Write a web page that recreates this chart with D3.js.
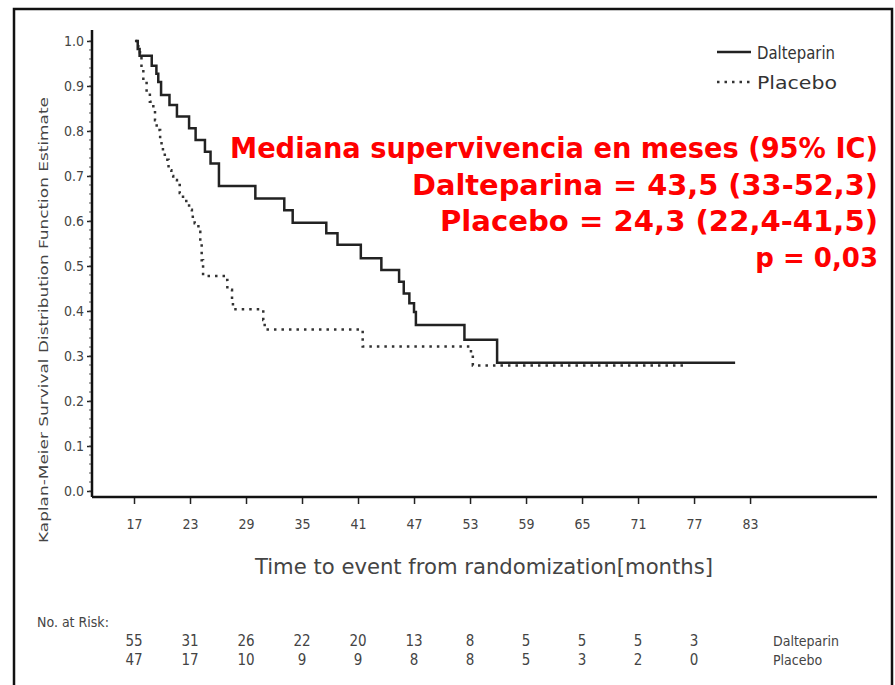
<!DOCTYPE html>
<meta charset="utf-8">
<html>
<head>
<style>
  body { margin: 0; background: #fff; }
  .tick text { fill: #444; }
</style>
</head>
<script src="https://d3js.org/d3.v7.min.js"></script>
<body>
<div id="vis"></div>
<script>
  // step points [months, survival estimate]
  var dalteparin = [
    [17.2, 1.0], [17.4, 0.982], [17.6, 0.967], [18.9, 0.945], [19.4, 0.927],
    [19.6, 0.909], [19.9, 0.880], [20.8, 0.858], [21.6, 0.832], [22.9, 0.806],
    [23.6, 0.780], [24.6, 0.754], [25.2, 0.728], [26.1, 0.678], [30.0, 0.650],
    [33.1, 0.624], [34.0, 0.596], [37.6, 0.573], [38.8, 0.547], [41.3, 0.517],
    [43.5, 0.491], [45.4, 0.465], [45.9, 0.439], [46.5, 0.417], [47.0, 0.398],
    [47.2, 0.369], [52.4, 0.336], [55.9, 0.285], [81.4, 0.285]
  ];
  var placebo = [
    [17.1, 1.0], [17.46, 0.985], [17.64, 0.969], [17.8, 0.94], [18.0, 0.913],
    [18.35, 0.884], [18.7, 0.865], [19.07, 0.847], [19.25, 0.824], [19.43, 0.802],
    [19.8, 0.773], [20.1, 0.75], [20.3, 0.736], [20.7, 0.713], [21.0, 0.70],
    [21.2, 0.691], [21.6, 0.68], [21.9, 0.662], [22.25, 0.650], [22.6, 0.639],
    [22.9, 0.625], [23.2, 0.617], [23.3, 0.605], [23.5, 0.595], [23.9, 0.576],
    [24.1, 0.55], [24.25, 0.513], [24.4, 0.478], [26.8, 0.469], [27.0, 0.447],
    [27.5, 0.424], [27.6, 0.404], [30.85, 0.38], [31.0, 0.359], [41.5, 0.321],
    [53.1, 0.302], [53.3, 0.279], [76.0, 0.279]
  ];
  var xTicks = [17, 23, 29, 35, 41, 47, 53, 59, 65, 71, 77, 83];
  var yTicks = [0, 0.1, 0.2, 0.3, 0.4, 0.5, 0.6, 0.7, 0.8, 0.9, 1.0];
  var riskDalteparin = [55, 31, 26, 22, 20, 13, 8, 5, 5, 5, 3];
  var riskPlacebo = [47, 17, 10, 9, 9, 8, 8, 5, 3, 2, 0];
  var annotationLines = [
    "Mediana supervivencia en meses (95% IC)",
    "Dalteparina = 43,5 (33-52,3)",
    "Placebo = 24,3 (22,4-41,5)",
    "p = 0,03"
  ];

  var W = 895, H = 685;
  var narrow = "'Liberation Sans Narrow', 'DejaVu Sans Condensed', 'Arial Narrow', sans-serif";

  var svg = d3.select("#vis").append("svg")
    .attr("width", W)
    .attr("height", H);

  svg.append("rect")
    .attr("x", 14).attr("y", 9)
    .attr("width", 878).attr("height", 700)
    .style("fill", "none")
    .style("stroke", "#111")
    .style("stroke-width", 2.5);

  var x = d3.scaleLinear().domain([12.5, 96.6]).range([92, 877]);
  var y = d3.scaleLinear().domain([-0.0133, 1.0244]).range([497, 30]);

  // y axis
  var yAxis = svg.append("g")
    .attr("transform", "translate(92,0)")
    .call(d3.axisLeft(y).tickValues(yTicks).tickSize(5).tickPadding(3).tickFormat(d3.format(".1f")));
  yAxis.select(".domain").remove();
  yAxis.selectAll("text").style("font-family", narrow).style("font-size", "14px");
  yAxis.selectAll("line").style("stroke", "#222").style("stroke-width", 1.5);

  var minor = d3.range(0, 1.001, 0.02);
  svg.append("g").selectAll("line")
    .data(minor)
    .enter().append("line")
    .attr("x1", 89).attr("x2", 92)
    .attr("y1", function(d) { return y(d); })
    .attr("y2", function(d) { return y(d); })
    .style("stroke", "#555")
    .style("stroke-width", 1);

  svg.append("line")
    .attr("x1", 92).attr("x2", 92)
    .attr("y1", y.range()[1]).attr("y2", y.range()[0])
    .style("stroke", "#111").style("stroke-width", 2.5);

  // x axis
  var xAxis = svg.append("g")
    .attr("transform", "translate(0,497)")
    .call(d3.axisBottom(x).tickValues(xTicks).tickSize(7).tickPadding(15));
  xAxis.select(".domain").remove();
  xAxis.selectAll("text").style("font-family", narrow).style("font-size", "14px");
  xAxis.selectAll("line").style("stroke", "#222").style("stroke-width", 1.5);

  svg.append("line")
    .attr("x1", 92).attr("x2", x.range()[1])
    .attr("y1", 497).attr("y2", 497)
    .style("stroke", "#111").style("stroke-width", 2.5);

  // axis titles
  svg.append("text")
    .attr("transform", "translate(48,320) rotate(-90)")
    .style("text-anchor", "middle")
    .style("font-family", narrow)
    .style("font-size", "13px")
    .style("fill", "#444")
    .attr("textLength", 446)
    .attr("lengthAdjust", "spacingAndGlyphs")
    .text("Kaplan-Meier Survival Distribution Function Estimate");

  svg.append("text")
    .attr("x", 484).attr("y", 574)
    .style("text-anchor", "middle")
    .style("font-family", narrow)
    .style("font-size", "21px")
    .style("fill", "#444")
    .attr("textLength", 458)
    .attr("lengthAdjust", "spacingAndGlyphs")
    .text("Time to event from randomization[months]");

  // curves
  var line = d3.line()
    .x(function(d) { return x(d[0]); })
    .y(function(d) { return y(d[1]); })
    .curve(d3.curveStepAfter);

  svg.append("path")
    .datum(placebo)
    .attr("d", line)
    .style("fill", "none")
    .style("stroke", "#333")
    .style("stroke-width", 2.5)
    .style("stroke-dasharray", "2.5,5");

  svg.append("path")
    .datum(dalteparin)
    .attr("d", line)
    .style("fill", "none")
    .style("stroke", "#222")
    .style("stroke-width", 2.5);

  // legend
  svg.append("line")
    .attr("x1", 717).attr("x2", 751).attr("y1", 52).attr("y2", 52)
    .style("stroke", "#222").style("stroke-width", 2.5);
  svg.append("line")
    .attr("x1", 717).attr("x2", 751).attr("y1", 82).attr("y2", 82)
    .style("stroke", "#333").style("stroke-width", 2.5)
    .style("stroke-dasharray", "2.5,5");
  svg.append("text").attr("x", 757).attr("y", 59)
    .style("font-family", narrow).style("font-size", "18px").style("fill", "#333")
    .attr("textLength", 78).attr("lengthAdjust", "spacingAndGlyphs")
    .text("Dalteparin");
  svg.append("text").attr("x", 757).attr("y", 89)
    .style("font-family", narrow).style("font-size", "18px").style("fill", "#333")
    .attr("textLength", 80).attr("lengthAdjust", "spacingAndGlyphs")
    .text("Placebo");

  // red annotation
  var annWidths = [648, 466, 438, null];
  var annBase = [158, 195, 231, 267];
  svg.append("g").selectAll("text")
    .data(annotationLines)
    .enter().append("text")
    .attr("x", 878)
    .attr("y", function(d, i) { return annBase[i]; })
    .attr("textLength", function(d, i) { return annWidths[i]; })
    .attr("lengthAdjust", function(d, i) { return annWidths[i] ? "spacingAndGlyphs" : null; })
    .style("text-anchor", "end")
    .style("font-family", "'DejaVu Sans', sans-serif")
    .style("font-weight", "bold")
    .style("font-size", function(d, i) { return annWidths[i] ? "28px" : "26px"; })
    .style("fill", "#ff0000")
    .text(function(d) { return d; });

  // number at risk
  svg.append("text")
    .attr("x", 37).attr("y", 627)
    .style("font-family", narrow).style("font-size", "14px").style("fill", "#444")
    .text("No. at Risk:");

  var risk = svg.append("g");
  risk.selectAll(".rd")
    .data(riskDalteparin)
    .enter().append("text")
    .attr("x", function(d, i) { return x(xTicks[i]); })
    .attr("y", 646)
    .style("text-anchor", "middle")
    .style("font-family", narrow).style("font-size", "15px").style("fill", "#444")
    .text(function(d) { return d; });
  risk.selectAll(".rp")
    .data(riskPlacebo)
    .enter().append("text")
    .attr("x", function(d, i) { return x(xTicks[i]); })
    .attr("y", 665)
    .style("text-anchor", "middle")
    .style("font-family", narrow).style("font-size", "15px").style("fill", "#444")
    .text(function(d) { return d; });

  svg.append("text").attr("x", 773).attr("y", 646)
    .style("font-family", narrow).style("font-size", "14px").style("fill", "#444")
    .text("Dalteparin");
  svg.append("text").attr("x", 773).attr("y", 665)
    .style("font-family", narrow).style("font-size", "14px").style("fill", "#444")
    .text("Placebo");
</script>
</body>
</html>
